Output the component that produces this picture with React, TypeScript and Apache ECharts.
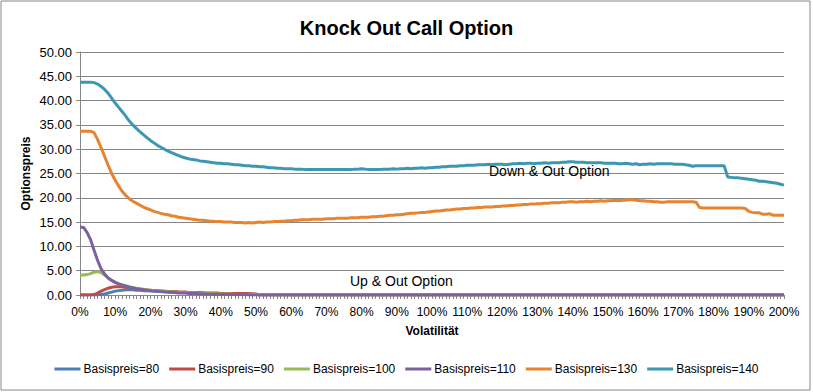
import React, { useEffect, useRef } from "react";
import * as echarts from "echarts";

// Volatility categories 0% .. 200% in 1% steps
const volatility: string[] = Array.from({ length: 201 }, (_, i) => `${i}%`);

const seriesNames = [
  "Basispreis=80",
  "Basispreis=90",
  "Basispreis=100",
  "Basispreis=110",
  "Basispreis=130",
  "Basispreis=140",
];

const basis80 = [
  0, 0, 0, 0, 0, 0, 0.1, 0.2, 0.4, 0.6,
  0.8, 0.9, 1.0, 1.1, 1.1, 1.1, 1.0, 1.0, 0.9, 0.9,
  0.8, 0.8, 0.7, 0.7, 0.7, 0.6, 0.6, 0.6, 0.5, 0.5,
  0.5, 0.5, 0.4, 0.4, 0.4, 0.4, 0.3, 0.3, 0.3, 0.3,
  0.3, 0.3, 0.2, 0.2, 0.2, 0.2, 0.2, 0.2, 0.2, 0.2,
  0.1, 0, 0, 0, 0, 0, 0, 0, 0, 0,
  0, 0, 0, 0, 0, 0, 0, 0, 0, 0,
  0, 0, 0, 0, 0, 0, 0, 0, 0, 0,
  0, 0, 0, 0, 0, 0, 0, 0, 0, 0,
  0, 0, 0, 0, 0, 0, 0, 0, 0, 0,
  0, 0, 0, 0, 0, 0, 0, 0, 0, 0,
  0, 0, 0, 0, 0, 0, 0, 0, 0, 0,
  0, 0, 0, 0, 0, 0, 0, 0, 0, 0,
  0, 0, 0, 0, 0, 0, 0, 0, 0, 0,
  0, 0, 0, 0, 0, 0, 0, 0, 0, 0,
  0, 0, 0, 0, 0, 0, 0, 0, 0, 0,
  0, 0, 0, 0, 0, 0, 0, 0, 0, 0,
  0, 0, 0, 0, 0, 0, 0, 0, 0, 0,
  0, 0, 0, 0, 0, 0, 0, 0, 0, 0,
  0, 0, 0, 0, 0, 0, 0, 0, 0, 0,
  0,
];

const basis90 = [
  0, 0, 0, 0, 0.1, 0.4, 0.8, 1.1, 1.4, 1.6,
  1.7, 1.7, 1.7, 1.6, 1.5, 1.4, 1.3, 1.2, 1.1, 1.0,
  1.0, 0.9, 0.9, 0.8, 0.8, 0.7, 0.7, 0.7, 0.6, 0.6,
  0.6, 0.5, 0.5, 0.5, 0.5, 0.4, 0.4, 0.4, 0.4, 0.4,
  0.3, 0.3, 0.3, 0.3, 0.3, 0.3, 0.3, 0.3, 0.3, 0.2,
  0.2, 0, 0, 0, 0, 0, 0, 0, 0, 0,
  0, 0, 0, 0, 0, 0, 0, 0, 0, 0,
  0, 0, 0, 0, 0, 0, 0, 0, 0, 0,
  0, 0, 0, 0, 0, 0, 0, 0, 0, 0,
  0, 0, 0, 0, 0, 0, 0, 0, 0, 0,
  0, 0, 0, 0, 0, 0, 0, 0, 0, 0,
  0, 0, 0, 0, 0, 0, 0, 0, 0, 0,
  0, 0, 0, 0, 0, 0, 0, 0, 0, 0,
  0, 0, 0, 0, 0, 0, 0, 0, 0, 0,
  0, 0, 0, 0, 0, 0, 0, 0, 0, 0,
  0, 0, 0, 0, 0, 0, 0, 0, 0, 0,
  0, 0, 0, 0, 0, 0, 0, 0, 0, 0,
  0, 0, 0, 0, 0, 0, 0, 0, 0, 0,
  0, 0, 0, 0, 0, 0, 0, 0, 0, 0,
  0, 0, 0, 0, 0, 0, 0, 0, 0, 0,
  0,
];

const basis100 = [
  4.1, 4.1, 4.2, 4.4, 4.7, 4.8, 4.6, 4.1, 3.5, 3.0,
  2.6, 2.3, 2.1, 1.9, 1.7, 1.5, 1.4, 1.3, 1.2, 1.1,
  1.0, 0.9, 0.9, 0.8, 0.7, 0.7, 0.6, 0.6, 0.5, 0.5,
  0.5, 0.4, 0.4, 0.4, 0.3, 0.3, 0.3, 0.3, 0.2, 0.2,
  0.2, 0.2, 0.2, 0.2, 0.1, 0.1, 0.1, 0.1, 0.1, 0.1,
  0.1, 0.1, 0.1, 0.1, 0.1, 0, 0, 0, 0, 0,
  0, 0, 0, 0, 0, 0, 0, 0, 0, 0,
  0, 0, 0, 0, 0, 0, 0, 0, 0, 0,
  0, 0, 0, 0, 0, 0, 0, 0, 0, 0,
  0, 0, 0, 0, 0, 0, 0, 0, 0, 0,
  0, 0, 0, 0, 0, 0, 0, 0, 0, 0,
  0, 0, 0, 0, 0, 0, 0, 0, 0, 0,
  0, 0, 0, 0, 0, 0, 0, 0, 0, 0,
  0, 0, 0, 0, 0, 0, 0, 0, 0, 0,
  0, 0, 0, 0, 0, 0, 0, 0, 0, 0,
  0, 0, 0, 0, 0, 0, 0, 0, 0, 0,
  0, 0, 0, 0, 0, 0, 0, 0, 0, 0,
  0, 0, 0, 0, 0, 0, 0, 0, 0, 0,
  0, 0, 0, 0, 0, 0, 0, 0, 0, 0,
  0, 0, 0, 0, 0, 0, 0, 0, 0, 0,
  0,
];

const basis110 = [
  14.0, 13.9, 12.9, 11.4, 9.2, 7.1, 5.4, 4.3, 3.5, 3.0,
  2.6, 2.3, 2.0, 1.8, 1.6, 1.5, 1.3, 1.2, 1.1, 1.0,
  0.9, 0.8, 0.8, 0.7, 0.6, 0.6, 0.5, 0.5, 0.4, 0.4,
  0.4, 0.3, 0.3, 0.3, 0.2, 0.2, 0.2, 0.2, 0.1, 0.1,
  0.1, 0.1, 0.1, 0.1, 0.1, 0.1, 0.1, 0.1, 0, 0,
  0, 0, 0, 0, 0, 0, 0, 0, 0, 0,
  0, 0, 0, 0, 0, 0, 0, 0, 0, 0,
  0, 0, 0, 0, 0, 0, 0, 0, 0, 0,
  0, 0, 0, 0, 0, 0, 0, 0, 0, 0,
  0, 0, 0, 0, 0, 0, 0, 0, 0, 0,
  0, 0, 0, 0, 0, 0, 0, 0, 0, 0,
  0, 0, 0, 0, 0, 0, 0, 0, 0, 0,
  0, 0, 0, 0, 0, 0, 0, 0, 0, 0,
  0, 0, 0, 0, 0, 0, 0, 0, 0, 0,
  0, 0, 0, 0, 0, 0, 0, 0, 0, 0,
  0, 0, 0, 0, 0, 0, 0, 0, 0, 0,
  0, 0, 0, 0, 0, 0, 0, 0, 0, 0,
  0, 0, 0, 0, 0, 0, 0, 0, 0, 0,
  0, 0, 0, 0, 0, 0, 0, 0, 0, 0,
  0, 0, 0, 0, 0, 0, 0, 0, 0, 0,
  0,
];

const basis130 = [
  33.7, 33.7, 33.7, 33.7, 33.4, 32.0, 30.3, 28.5, 26.7, 25.0,
  23.6, 22.4, 21.3, 20.5, 19.8, 19.3, 18.9, 18.5, 18.1, 17.8,
  17.5, 17.2, 17.0, 16.8, 16.6, 16.5, 16.3, 16.2, 16.0, 15.9,
  15.8, 15.7, 15.6, 15.5, 15.4, 15.4, 15.3, 15.2, 15.2, 15.1,
  15.1, 15.0, 15.0, 15.0, 14.9, 14.9, 14.9, 14.8, 14.9, 14.8,
  14.9, 15.0, 14.9, 15.0, 15.0, 15.1, 15.1, 15.2, 15.2, 15.3,
  15.3, 15.4, 15.4, 15.5, 15.5, 15.5, 15.6, 15.6, 15.6, 15.6,
  15.7, 15.7, 15.7, 15.8, 15.8, 15.8, 15.8, 15.9, 15.9, 15.9,
  16.0, 16.0, 16.0, 16.1, 16.1, 16.2, 16.2, 16.3, 16.4, 16.4,
  16.5, 16.5, 16.6, 16.7, 16.8, 16.8, 16.9, 17.0, 17.0, 17.1,
  17.2, 17.3, 17.3, 17.4, 17.5, 17.5, 17.6, 17.7, 17.7, 17.8,
  17.8, 17.9, 17.9, 18.0, 18.0, 18.1, 18.1, 18.1, 18.2, 18.2,
  18.3, 18.3, 18.4, 18.4, 18.5, 18.5, 18.6, 18.6, 18.7, 18.7,
  18.8, 18.8, 18.9, 18.9, 19.0, 19.0, 19.0, 19.1, 19.1, 19.2,
  19.2, 19.1, 19.2, 19.2, 19.3, 19.2, 19.3, 19.3, 19.4, 19.3,
  19.4, 19.4, 19.5, 19.4, 19.5, 19.5, 19.6, 19.6, 19.5, 19.4,
  19.4, 19.3, 19.3, 19.2, 19.2, 19.1, 19.1, 19.2, 19.2, 19.2,
  19.2, 19.2, 19.2, 19.2, 19.2, 19.1, 18.0, 17.9, 17.9, 17.9,
  17.9, 17.9, 17.9, 17.9, 17.9, 17.9, 17.9, 17.9, 17.9, 17.8,
  17.2, 17.0, 16.9, 16.9, 16.6, 16.6, 16.7, 16.4, 16.4, 16.4,
  16.4,
];

const basis140 = [
  43.8, 43.8, 43.8, 43.8, 43.7, 43.4, 42.9, 42.3, 41.5, 40.5,
  39.5, 38.6, 37.7, 36.8, 35.8, 35.0, 34.3, 33.6, 33.0, 32.4,
  31.8, 31.3, 30.8, 30.4, 30.0, 29.6, 29.3, 29.0, 28.7, 28.4,
  28.2, 28.0, 27.9, 27.8, 27.6, 27.5, 27.4, 27.3, 27.2, 27.1,
  27.1, 27.0, 27.0, 26.9, 26.8, 26.8, 26.7, 26.6, 26.6, 26.5,
  26.5, 26.4, 26.4, 26.3, 26.2, 26.2, 26.1, 26.1, 26.0, 26.0,
  26.0, 25.9, 25.9, 25.9, 25.8, 25.8, 25.8, 25.8, 25.8, 25.8,
  25.8, 25.8, 25.8, 25.8, 25.8, 25.8, 25.8, 25.8, 25.9, 25.9,
  26.0, 25.9, 25.8, 25.8, 25.8, 25.8, 25.9, 25.9, 25.9, 26.0,
  25.9, 26.0, 26.0, 26.1, 26.0, 26.1, 26.1, 26.2, 26.1, 26.2,
  26.2, 26.3, 26.3, 26.4, 26.4, 26.5, 26.5, 26.5, 26.6, 26.6,
  26.7, 26.7, 26.7, 26.8, 26.8, 26.8, 26.9, 26.8, 26.9, 26.9,
  26.9, 26.8, 26.9, 27.0, 27.0, 27.1, 27.0, 27.1, 27.1, 27.0,
  27.1, 27.1, 27.2, 27.1, 27.2, 27.2, 27.2, 27.3, 27.3, 27.4,
  27.4, 27.3, 27.3, 27.3, 27.2, 27.2, 27.2, 27.2, 27.2, 27.1,
  27.1, 27.1, 27.1, 27.0, 27.0, 27.1, 27.0, 26.9, 27.0, 26.8,
  26.9, 26.9, 27.0, 26.9, 27.0, 27.0, 27.0, 27.0, 27.0, 26.9,
  26.9, 26.9, 26.8, 26.7, 26.5, 26.6, 26.6, 26.6, 26.6, 26.6,
  26.6, 26.6, 26.6, 26.6, 24.3, 24.2, 24.1, 24.1, 24.0, 23.9,
  23.8, 23.7, 23.6, 23.4, 23.4, 23.3, 23.2, 23.1, 23.0, 22.8,
  22.6,
];

const seriesValues = [basis80, basis90, basis100, basis110, basis130, basis140];
const seriesColors = ["#4A7EBB", "#BE4B48", "#98B954", "#7D60A0", "#E8832F", "#3B97B2"];

const FONT = "'Liberation Sans', Arial, sans-serif";

export default function App() {
  const ref = useRef<HTMLDivElement>(null);

  useEffect(() => {
    if (!ref.current) return;
    const chart = echarts.init(ref.current, undefined, { renderer: "svg" });
    chart.setOption({
      animation: false,
      backgroundColor: "#ffffff",
      textStyle: { fontFamily: FONT },
      title: {
        text: "Knock Out Call Option",
        left: "center",
        top: 13,
        textStyle: { fontFamily: FONT, fontSize: 20, fontWeight: "bold", color: "#000" },
      },
      grid: { left: 80, right: 29, top: 52, bottom: 97, containLabel: false },
      legend: {
        bottom: 12,
        left: "center",
        icon: "rect",
        itemWidth: 26,
        itemHeight: 3,
        itemGap: 10,
        data: seriesNames,
        textStyle: { fontFamily: FONT, fontSize: 12, color: "#000", padding: [0, 0, 0, -2] },
      },
      xAxis: {
        type: "category",
        data: volatility,
        boundaryGap: false,
        name: "Volatilität",
        nameLocation: "middle",
        nameGap: 30,
        nameMoveOverlap: false,
        nameTextStyle: { fontFamily: FONT, fontSize: 12, fontWeight: "bold", color: "#000" },
        axisLine: { lineStyle: { color: "#868686", width: 1 } },
        axisTick: { show: true, interval: 0, length: 4, lineStyle: { color: "#868686" } },
        axisLabel: { interval: 9, fontSize: 12, color: "#000", margin: 11, fontFamily: FONT },
        splitLine: { show: false },
      },
      yAxis: {
        type: "value",
        min: 0,
        max: 50,
        interval: 5,
        name: "Optionspreis",
        nameLocation: "middle",
        nameRotate: 90,
        nameGap: 48,
        nameMoveOverlap: false,
        nameTextStyle: { fontFamily: FONT, fontSize: 12, fontWeight: "bold", color: "#000" },
        axisLine: { show: true, lineStyle: { color: "#868686", width: 1 } },
        axisTick: { show: true, length: 4, lineStyle: { color: "#868686" } },
        axisLabel: {
          fontSize: 13,
          color: "#000",
          margin: 8,
          fontFamily: FONT,
          formatter: (v: number) => v.toFixed(2),
        },
        splitLine: { show: true, lineStyle: { color: "#868686", width: 1 } },
      },
      series: seriesNames.map((name, i) => ({
        name,
        type: "line",
        data: seriesValues[i],
        showSymbol: false,
        symbol: "none",
        lineStyle: { width: 3, color: seriesColors[i] },
        itemStyle: { color: seriesColors[i] },
        emphasis: { disabled: true },
      })),
      graphic: [
        {
          type: "rect",
          shape: { x: 1, y: 1, width: 809, height: 389 },
          style: { fill: "none", stroke: "#868686", lineWidth: 1 },
          silent: true,
          z: -1,
        },
        {
          type: "text",
          x: 489,
          y: 171,
          style: {
            text: "Down & Out Option",
            fill: "#000",
            fontSize: 14,
            fontFamily: FONT,
            verticalAlign: "middle",
          },
          z: 100,
        },
        {
          type: "text",
          x: 350,
          y: 281,
          style: {
            text: "Up & Out Option",
            fill: "#000",
            fontSize: 14,
            fontFamily: FONT,
            verticalAlign: "middle",
          },
          z: 100,
        },
      ],
    });
    return () => chart.dispose();
  }, []);

  return (
    <div style={{ position: "fixed", left: 0, top: 0, width: 813, height: 392, background: "#fff" }}>
      <div ref={ref} style={{ width: 813, height: 392 }} />
    </div>
  );
}
